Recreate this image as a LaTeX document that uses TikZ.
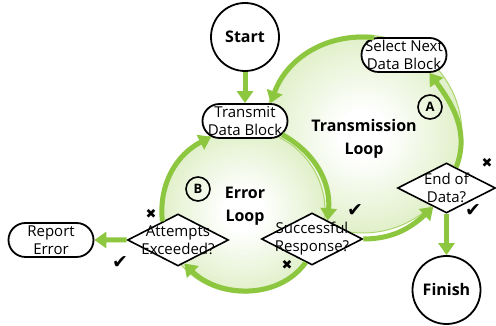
\documentclass[tikz,border=0pt]{standalone}
\usepackage{fontspec}
\setmainfont{Open Sans}
\newfontfamily\symfont{DejaVu Sans}
\usetikzlibrary{arrows.meta,shapes.geometric,shapes.misc}
\definecolor{flowgreen}{RGB}{141,198,63}
\definecolor{loopedge}{RGB}{184,220,130}
\definecolor{looprim}{RGB}{172,214,110}
\pgfdeclareradialshading{loopfill}{\pgfpoint{0bp}{0bp}}{color(0bp)=(white); color(6bp)=(white); color(50bp)=(loopedge)}

\begin{document}
\begin{tikzpicture}[x=1pt,y=1pt,
  terminal/.style={circle, draw, line width=1.8pt, fill=white, minimum size=68pt, inner sep=0pt,
    font=\fontsize{16}{18}\selectfont\bfseries},
  process/.style={rounded rectangle, draw, line width=1.8pt, fill=white, minimum width=85pt,
    minimum height=34pt, inner sep=0pt},
  decision/.style={diamond, draw, line width=1.6pt, fill=white, minimum width=101pt,
    minimum height=52pt, inner sep=0pt},
  boxtext/.style={align=center, font=\fontsize{15}{18}\selectfont, inner sep=0pt},
  looptitle/.style={align=center, font=\fontsize{16}{23}\selectfont\bfseries},
  tag/.style={circle, draw, line width=1.6pt, minimum size=24pt, inner sep=0pt,
    font=\fontsize{13}{13}\selectfont\bfseries},
  yes/.style={font=\symfont\fontsize{19}{19}\selectfont, inner sep=0pt},
  no/.style={font=\symfont\fontsize{13}{13}\selectfont, inner sep=0pt},
  flow/.style={line width=5pt, draw=flowgreen, -{Triangle[width=16pt,length=12pt]}}
]
\useasboundingbox (0,0) rectangle (496,326);

% shaded loop discs
\shade[shading=loopfill, draw=looprim, line width=1pt] (363,192) circle[radius=99];
\shade[shading=loopfill, draw=looprim, line width=1pt] (243,115) circle[radius=82];

% flowchart nodes
\node[terminal] (start) at (245,289) {Start};
\node[terminal] (fin) at (446.5,36) {Finish};
\node[process] (trans) at (245,205) {};
\node[boxtext] at (trans.center) {Transmit\\Data Block};
\node[process] (sel) at (404,271) {};
\node[boxtext] at (sel.center) {Select Next\\Data Block};
\node[process] (rep) at (51,86) {};
\node[boxtext] at (rep.center) {Report\\Error};
\node[decision] (att) at (178,86) {};
\node[boxtext] at (att.center) {Attempts\\Exceeded?};
\node[decision] (succ) at (312,87) {};
\node[boxtext] at (succ.center) {Successful\\Response?};
\node[decision, minimum width=98pt, minimum height=50pt] (eod) at (446.5,138) {};
\node[boxtext] at (eod.center) {End of\\Data?};

% loop titles and tags
\node[looptitle] (tl) at (364,187) {Transmission\\Loop};
\node[looptitle] (el) at (245,120) {Error\\Loop};
\node[tag] (ta) at (430,219) {A};
\node[tag] (tb) at (198,137) {B};

% yes / no marks
\node[no] (n1) at (151,112) {✖};
\node[yes] (y1) at (120,63) {✔};
\node[yes] (y2) at (355,115) {✔};
\node[no] (n2) at (287,61) {✖};
\node[no] (n3) at (487,163) {✖};
\node[yes] (y3) at (473,115) {✔};

% straight connectors
\draw[flow] (start) -- (trans);
\draw[flow] (eod) -- (fin);
\draw[flow] (att) -- (rep);

% transmission loop
\draw[flow] (sel.150) to[out=174,in=70] (trans.35);
\draw[flow] (eod.65) to[out=69,in=-54] (sel.-35);
\draw[flow] (succ.east) to[out=0,in=223] (eod.235);

% error loop
\draw[flow] (trans.-20) to[out=-29,in=85] (succ.50);
\draw[flow] (succ.255) to[out=-126,in=-45] (att.-75);
\draw[flow] (att.130) to[out=96,in=207] (trans.205);
\end{tikzpicture}
\end{document}
